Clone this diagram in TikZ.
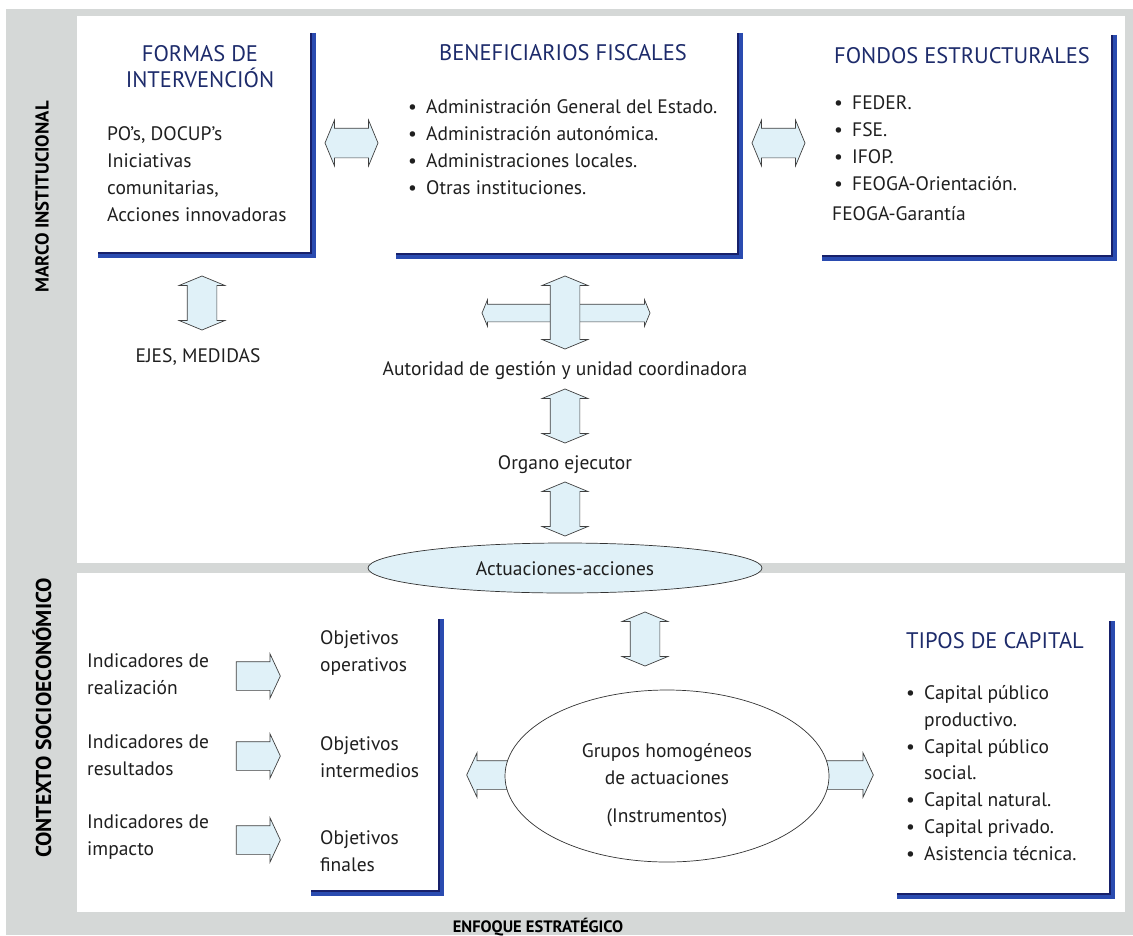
\documentclass[tikz,border=0pt]{standalone}
\usepackage{fontspec}
\setmainfont{PT Sans}
\usetikzlibrary{shapes.geometric,shapes.arrows}
\definecolor{panelgray}{HTML}{D5D8D7}
\definecolor{headblue}{HTML}{1D2B6B}
\definecolor{rulblue}{HTML}{2A4BB0}
\definecolor{rulnavy}{HTML}{17206A}
\definecolor{arrowfill}{HTML}{E0F1F8}
\newcommand{\bul}{\makebox[18pt][l]{\textbullet}}
\newcommand{\cont}{\hspace*{18pt}}
% L-shaped rule on the right and bottom side of a frame node
\newcommand{\Lrule}[1]{%
  \draw[line width=6.5pt, rulblue, line join=miter] (#1.north east) -- (#1.south east) -- (#1.south west);
  \draw[line width=1.8pt, rulnavy, line join=miter]
    ([xshift=-2.6pt]#1.north east) -- ([xshift=-2.6pt,yshift=2.6pt]#1.south east) -- ([yshift=2.6pt]#1.south west);}
\begin{document}
\begin{tikzpicture}[x=1pt,y=-1pt,
  txt/.style={inner sep=0pt, font=\fontsize{19.5}{26.7}\selectfont, text=black!88, align=left, anchor=base west},
  ctxt/.style={txt, align=center, anchor=base},
  head/.style={inner sep=0pt, font=\fontsize{22.5}{26}\selectfont, text=headblue, align=center, anchor=base},
  side/.style={inner sep=0pt, font=\bfseries\fontsize{18.7}{20}\selectfont, text=black},
  frame/.style={draw=none, inner sep=0pt, rectangle},
  dblarrow/.style={double arrow, draw=black!75, fill=arrowfill, line width=0.7pt,
     inner xsep=0pt, inner ysep=14.5pt, double arrow tip angle=135, double arrow head extend=8pt},
  sglarrow/.style={single arrow, draw=black!75, fill=arrowfill, line width=0.7pt,
     inner xsep=0pt, inner ysep=14pt, single arrow tip angle=130, single arrow head extend=8pt},
]
\useasboundingbox (0,0) rectangle (1133,935);

% background and the two panels
\fill[panelgray] (6,9) rectangle (1133,935);
\fill[white] (77,16) rectangle (1125,563);
\fill[white] (77,573) rectangle (1125,912);

% side labels
\node[side, rotate=90] (marco) at (42,197) {MARCO INSTITUCIONAL};
\node[side, rotate=90, font=\bfseries\fontsize{21.5}{22}\selectfont] (contexto) at (42,718) {CONTEXTO SOCIOECONÓMICO};
\node[side, anchor=base, font=\bfseries\fontsize{16.5}{18}\selectfont] (enfoque) at (538,932) {ENFOQUE ESTRATÉGICO};

% frames
\node[frame, minimum width=215pt, minimum height=222pt] (b1) at (205.5,144) {};
\node[frame, minimum width=344pt, minimum height=223pt] (b2) at (568,144.5) {};
\node[frame, minimum width=292pt, minimum height=223pt] (b3) at (968,146.5) {};
\node[frame, minimum width=130pt, minimum height=274pt] (b4) at (376,756) {};
\node[frame, minimum width=215pt, minimum height=275pt] (b5) at (1004.5,758.5) {};
\Lrule{b1}\Lrule{b2}\Lrule{b3}\Lrule{b4}\Lrule{b5}

% box contents (multi-line nodes are placed by the baseline of their last line)
\node[head] (h1) at (200,87) {FORMAS DE\\INTERVENCIÓN};
\node[txt] (t1) at (107,221) {PO’s, DOCUP’s\\Iniciativas\\comunitarias,\\Acciones innovadoras};

\node[head] (h2) at (563,60) {BENEFICIARIOS FISCALES};
\node[txt] (t2) at (408,194) {\bul Administración General del Estado.\\\bul Administración autonómica.\\\bul Administraciones locales.\\\bul Otras instituciones.};

\node[head] (h3) at (962,63) {FONDOS ESTRUCTURALES};
\node[txt] (t3) at (834,190) {\bul FEDER.\\\bul FSE.\\\bul IFOP.\\\bul FEOGA-Orientación.};
\node[txt] (t3b) at (832,220) {FEOGA-Garantía};

\node[head] (h5) at (995,648) {TIPOS DE CAPITAL};
\node[txt] (t5) at (906,860) {\bul Capital público\\\cont productivo.\\\bul Capital público\\\cont social.\\\bul Capital natural.\\\bul Capital privado.\\\bul Asistencia técnica.};

\node[txt] (o1) at (320,671) {Objetivos\\operativos};
\node[txt] (o2) at (320,777) {Objetivos\\intermedios};
\node[txt] (o3) at (320,871) {Objetivos\\finales};

\node[txt] (i1) at (87,694) {Indicadores de\\realización};
\node[txt] (i2) at (87,775) {Indicadores de\\resultados};
\node[txt] (i3) at (87,855) {Indicadores de\\impacto};

% central column
\node[ctxt] (ejes) at (198,362) {EJES, MEDIDAS};
\node[ctxt] (aut) at (565,375) {Autoridad de gestión y unidad coordinadora};
\node[ctxt] (org) at (565,469) {Organo ejecutor};

% block arrows
\node[dblarrow, minimum height=53pt] (a12) at (351.5,143) {};
\node[dblarrow, minimum height=53pt] (a23) at (778.5,143) {};
\node[dblarrow, rotate=90, minimum height=54pt] (a1e) at (202,303) {};
\node[dblarrow, minimum height=168pt, inner ysep=8.5pt, double arrow head extend=4.5pt] (crossh) at (566,313) {};
\node[dblarrow, rotate=90, minimum height=73pt] (crossv) at (565,312.5) {};
\node[dblarrow, rotate=90, minimum height=54pt] (a2o) at (565,416) {};
\node[dblarrow, rotate=90, minimum height=54pt] (ao3) at (565,509) {};
\node[dblarrow, rotate=90, minimum height=54pt] (a3g) at (645,639) {};
\node[sglarrow, minimum height=44pt] (s1) at (255,676) {};
\node[sglarrow, minimum height=44pt] (s2) at (255,756) {};
\node[sglarrow, minimum height=44pt] (s3) at (255,840) {};
\node[sglarrow, shape border rotate=180, minimum height=50pt] (gl) at (495,775) {};
\node[sglarrow, minimum height=55pt] (gr) at (842.5,775) {};

% ellipses
\node[ellipse, draw=black!80, line width=0.7pt, fill=arrowfill, minimum width=394pt, minimum height=50pt, inner sep=0pt] (act) at (565,568) {};
\node[ctxt] (actt) at (565,575) {Actuaciones-acciones};
\node[ellipse, draw=black!80, line width=0.7pt, fill=white, minimum width=324pt, minimum height=172pt, inner sep=0pt] (grp) at (667,776) {};
\node[ctxt] (grpt) at (667,822) {Grupos homogéneos\\de actuaciones\\[11pt](Instrumentos)};
\end{tikzpicture}
\end{document}
